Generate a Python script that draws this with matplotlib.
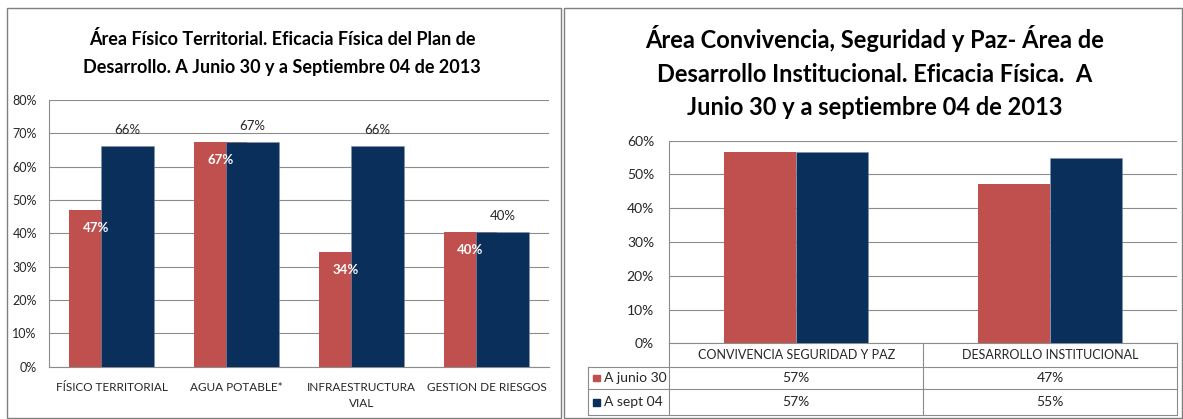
import matplotlib.pyplot as plt
from matplotlib.patches import Rectangle
from matplotlib.lines import Line2D
from matplotlib.ticker import PercentFormatter
import numpy as np

# left chart: area fisico territorial
cats_left = ["FÍSICO TERRITORIAL", "AGUA POTABLE*", "INFRAESTRUCTURA\nVIAL", "GESTION DE RIESGOS"]
junio_left = [0.469, 0.674, 0.344, 0.404]
sept_left = [0.662, 0.674, 0.661, 0.404]

# right chart: convivencia / desarrollo institucional
cats_right = ["CONVIVENCIA SEGURIDAD Y PAZ", "DESARROLLO INSTITUCIONAL"]
junio_right = [0.566, 0.471]
sept_right = [0.566, 0.550]
series_names = ["A junio 30", "A sept 04"]

title_left = "Área Físico Territorial. Eficacia Física del Plan de\nDesarrollo. A Junio 30 y a Septiembre 04 de 2013"
title_right = ("Área Convivencia, Seguridad y Paz- Área de\n"
               "Desarrollo Institucional. Eficacia Física.  A\n"
               "Junio 30 y a septiembre 04 de 2013")

RED = "#C0504D"
NAVY = "#0B2F5B"
GRID = "#8C8C8C"
TXT = "#262626"

plt.rcParams["font.family"] = ["Lato", "DejaVu Sans"]

W, H = 1183, 419
fig = plt.figure(figsize=(W / 100, H / 100), dpi=100)


def box(x0, y0, x1, y1):
    # pixel box (top-left origin) -> figure fraction rect
    return [x0 / W, 1 - y1 / H, (x1 - x0) / W, (y1 - y0) / H]


# panel borders
for x0, x1 in [(7, 561), (564, 1182)]:
    fig.add_artist(Rectangle((x0 / W, 1 - 418 / H), (x1 - x0) / W, (418 - 8) / H,
                             transform=fig.transFigure, fill=False, edgecolor="#7F7F7F", lw=1))

# ---------------- left chart ----------------
ax = fig.add_axes(box(49.3, 100, 549, 366.7))
x = np.arange(len(cats_left))
off, w = 0.128, 0.424
ax.bar(x - off, junio_left, w, color=RED, zorder=2)
ax.bar(x + off, sept_left, w, color=NAVY, edgecolor="#7F93AD", lw=0.4, zorder=3)
for xi, v in zip(x, junio_left):
    ax.annotate(f"{v:.0%}", (xi - off, v), xytext=(0, -13), textcoords="offset points",
                ha="center", va="center", color="white", fontweight="bold", fontsize=9.5, zorder=5)
for xi, v in zip(x, sept_left):
    ax.annotate(f"{v:.0%}", (xi + off, v), xytext=(0, 11.5), textcoords="offset points",
                ha="center", va="center", color=TXT, fontsize=9.5, zorder=5)
ax.set_xlim(-0.5, len(cats_left) - 0.5)
ax.set_ylim(0, 0.8)
ax.set_yticks(np.arange(0, 0.81, 0.1))
ax.yaxis.set_major_formatter(PercentFormatter(1, decimals=0))
ax.set_xticks(x)
ax.set_xticklabels(cats_left, linespacing=1.6)
ax.tick_params(axis="both", length=0, labelsize=9, labelcolor=TXT)
ax.tick_params(axis="y", pad=9)
ax.tick_params(axis="x", labelsize=8.5, pad=11)
ax.grid(axis="y", color=GRID, lw=0.8)
ax.set_axisbelow(True)
for s in ["top", "right"]:
    ax.spines[s].set_visible(False)
for s in ["left", "bottom"]:
    ax.spines[s].set_color(GRID)
    ax.spines[s].set_linewidth(0.8)

fig.text(282 / W, 1 - 53 / H, title_left, ha="center", va="center", fontsize=13,
         fontweight="bold", color="black", linespacing=1.75)

# ---------------- right chart ----------------
ax2 = fig.add_axes(box(669.3, 140.7, 1177.3, 343.3))
x2 = np.arange(len(cats_right))
off2, w2 = 0.142, 0.284
ax2.bar(x2 - off2, junio_right, w2, color=RED, zorder=2)
ax2.bar(x2 + off2, sept_right, w2, color=NAVY, edgecolor="#7F93AD", lw=0.4, zorder=3)
ax2.set_xlim(-0.5, len(cats_right) - 0.5)
ax2.set_ylim(0, 0.6)
ax2.set_yticks(np.arange(0, 0.61, 0.1))
ax2.yaxis.set_major_formatter(PercentFormatter(1, decimals=0))
ax2.set_xticks([])
ax2.tick_params(axis="y", length=0, labelsize=10, labelcolor=TXT, pad=11)
ax2.grid(axis="y", color=GRID, lw=0.8)
ax2.set_axisbelow(True)
for s in ["top", "right"]:
    ax2.spines[s].set_visible(False)
for s in ["left", "bottom"]:
    ax2.spines[s].set_color(GRID)
    ax2.spines[s].set_linewidth(0.8)

# data table under the right chart (axes fraction coords)
rows_y = [0, -0.1155, -0.227, -0.354]
leg_x = -0.1606
tkw = dict(transform=ax2.transAxes, clip_on=False, color=GRID, lw=0.8)
for xv in [0, 0.5, 1]:
    ax2.add_line(Line2D([xv, xv], [rows_y[0], rows_y[-1]], **tkw))
ax2.add_line(Line2D([leg_x, leg_x], [rows_y[1], rows_y[-1]], **tkw))
for yv in rows_y[1:]:
    ax2.add_line(Line2D([leg_x, 1], [yv, yv], **tkw))

ncat = len(cats_right)
for i, c in enumerate(cats_right):
    ax2.text((i + 0.5) / ncat, (rows_y[0] + rows_y[1]) / 2, c, transform=ax2.transAxes,
             ha="center", va="center", fontsize=9, color=TXT)
for r, (name, vals, col) in enumerate(zip(series_names, [junio_right, sept_right], [RED, NAVY])):
    yc = (rows_y[r + 1] + rows_y[r + 2]) / 2
    ax2.add_patch(Rectangle((leg_x + 0.011, yc - 0.017), 0.014, 0.034, transform=ax2.transAxes,
                            clip_on=False, color=col))
    ax2.text(leg_x + 0.032, yc, name, transform=ax2.transAxes, ha="left", va="center",
             fontsize=10, color=TXT)
    for i, v in enumerate(vals):
        ax2.text((i + 0.5) / ncat, yc, f"{v:.0%}", transform=ax2.transAxes,
                 ha="center", va="center", fontsize=10, color=TXT)

fig.text(875 / W, 1 - 72 / H, title_right, ha="center", va="center", fontsize=17,
         fontweight="bold", color="black", linespacing=1.55)

fig.savefig("out.png", dpi=100)
